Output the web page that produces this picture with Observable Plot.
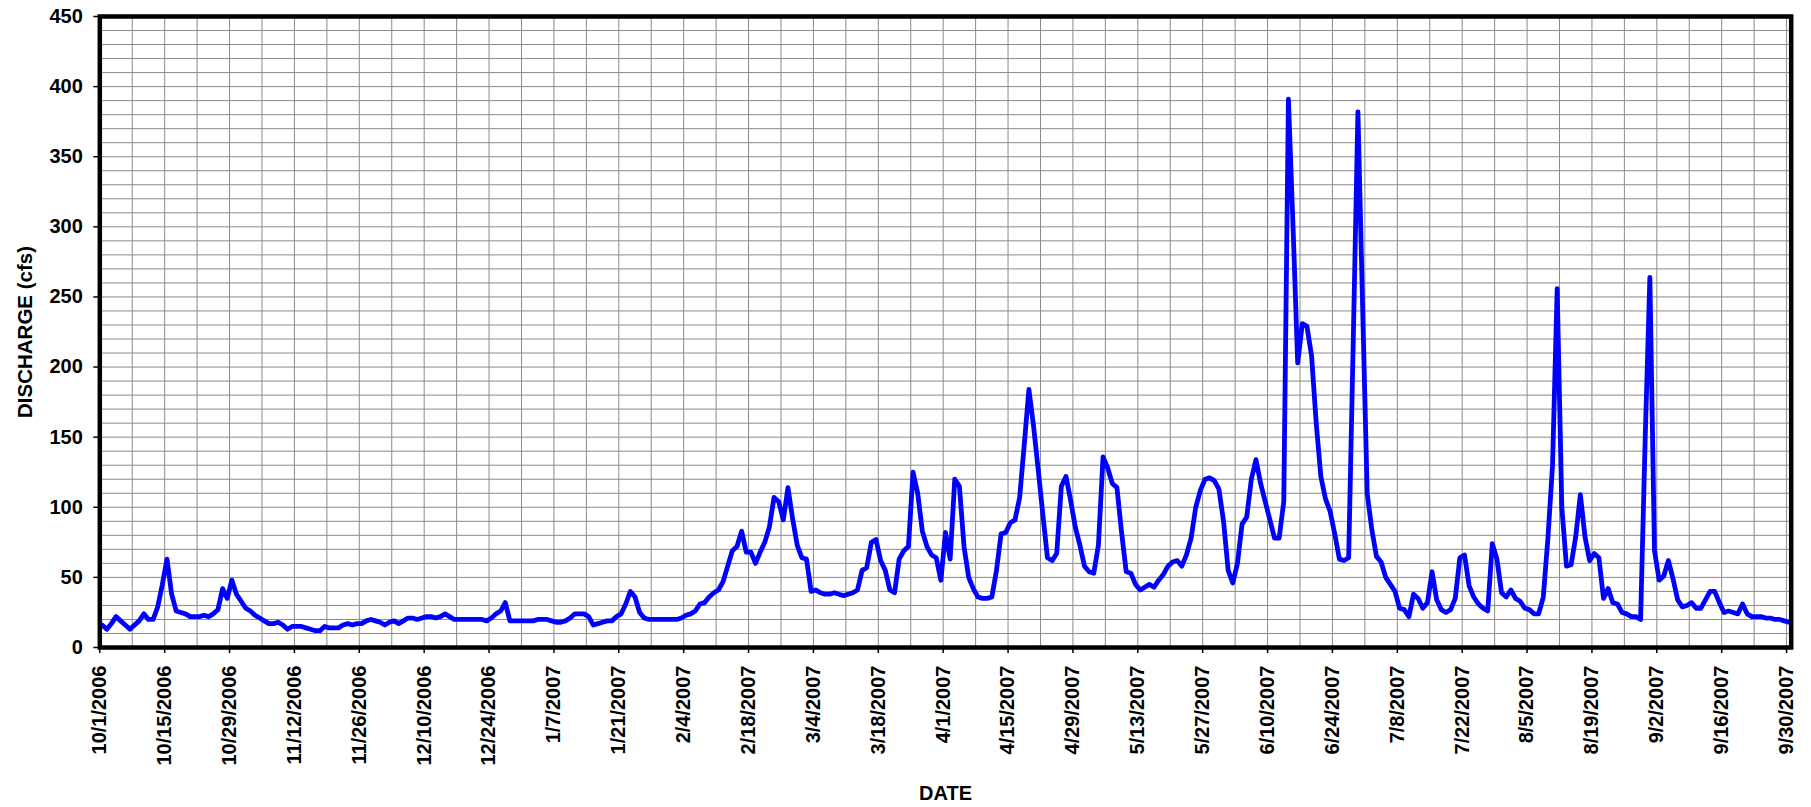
<!DOCTYPE html>
<html>
<head>
<meta charset="utf-8">
<script src="https://cdn.jsdelivr.net/npm/d3@7"></script>
<script src="https://cdn.jsdelivr.net/npm/@observablehq/plot@0.6"></script>
<style>
  html, body { margin: 0; padding: 0; background: #ffffff; }
  #chart svg { display: block; }
</style>
</head>
<body>
<div id="chart"></div>
<script>
// Daily mean discharge (cfs), water year Oct 1 2006 – Sep 30 2007, one array per month
const startDate = "2006-10-01";
const oct2006 = [16,13,17,22,19,16,13,16,19,24,20,20,29,45,63,38,26,25,24,22,22,22,23,22,24,27,42,35,48,38,33];
const nov2006 = [28,26,23,21,19,17,17,18,16,13,15,15,15,14,13,12,12,15,14,14,14,16,17,16,17,17,19,20,19,18];
const dec2006 = [16,18,19,17,19,21,21,20,21,22,22,21,22,24,22,20,20,20,20,20,20,20,19,21,24,26,32,19,19,19,19];
const jan2007 = [19,19,20,20,20,19,18,18,19,21,24,24,24,22,16,17,18,19,19,22,24,31,40,36,25,21,20,20,20,20,20];
const feb2007 = [20,20,21,23,24,26,31,32,36,39,41,47,58,69,72,83,68,68,60,68,75,86,107,104,91,114,92,73];
const mar2007 = [64,63,40,41,39,38,38,39,38,37,38,39,41,55,57,75,77,62,55,41,39,63,69,72,125,110,83,72,66,64,48];
const apr2007 = [82,63,120,115,72,50,42,36,35,35,36,55,81,82,89,91,107,145,184,158,127,95,64,62,67,115,122,105,86,73];
const may2007 = [58,54,53,73,136,128,117,114,82,54,53,45,41,43,45,43,48,52,58,61,62,58,66,78,100,112,120,121,119,113,90];
const jun2007 = [55,46,60,88,93,120,134,117,104,91,78,78,104,391,300,203,231,229,208,160,122,106,97,81,63,62,64,220,382,245];
const jul2007 = [110,84,65,61,50,45,40,28,27,22,38,35,28,32,54,34,27,25,27,35,64,66,44,36,31,28,26,74,63,39,36];
const aug2007 = [41,35,33,28,27,24,24,36,78,130,256,100,58,59,79,109,79,62,67,64,35,42,32,31,25,24,22,22,20,150,264];
const sep2007 = [69,48,51,62,49,34,29,30,32,28,28,34,40,40,32,25,26,25,24,31,24,22,22,22,21,21,20,20,19,18];

const tickLabels = ["10/1/2006","10/15/2006","10/29/2006","11/12/2006","11/26/2006","12/10/2006","12/24/2006",
  "1/7/2007","1/21/2007","2/4/2007","2/18/2007","3/4/2007","3/18/2007","4/1/2007","4/15/2007","4/29/2007",
  "5/13/2007","5/27/2007","6/10/2007","6/24/2007","7/8/2007","7/22/2007","8/5/2007","8/19/2007","9/2/2007",
  "9/16/2007","9/30/2007"];
const yTicks = [0, 50, 100, 150, 200, 250, 300, 350, 400, 450];
const yTitle = "DISCHARGE (cfs)";
const xTitle = "DATE";

const DAY = 86400000;
const day0 = Date.parse(startDate + "T00:00:00Z");
const flows = [oct2006, nov2006, dec2006, jan2007, feb2007, mar2007, apr2007,
               may2007, jun2007, jul2007, aug2007, sep2007].flat();
// Excel date axis plots each day in the middle of its interval
const data = flows.map((q, i) => ({date: new Date(day0 + (i + 0.5) * DAY), q}));
const tickDates = tickLabels.map(s => {
  const [m, d, y] = s.split("/").map(Number);
  return new Date(Date.UTC(y, m - 1, d));
});
const labelOf = new Map(tickDates.map((d, i) => [+d, tickLabels[i]]));
const weekGrid = d3.range(0, 365, 7).map(i => new Date(day0 + i * DAY));
const cfsGrid = d3.range(0, 451, 10);

const chart = Plot.plot({
  width: 1811,
  height: 807,
  marginLeft: 99.3,
  marginRight: 20.3,
  marginTop: 16,
  marginBottom: 160,
  style: "font-family: 'Liberation Sans', Arial, sans-serif; font-size: 20px; font-weight: bold; color: #000; background: #fff;",
  x: {type: "utc", domain: [new Date(day0), new Date(day0 + 365 * DAY)]},
  y: {type: "linear", domain: [0, 450]},
  marks: [
    Plot.ruleY(cfsGrid, {stroke: "#8a8a8a", strokeWidth: 1}),
    Plot.ruleX(weekGrid, {stroke: "#8a8a8a", strokeWidth: 1}),
    Plot.line(data, {x: "date", y: "q", stroke: "#0000ff", strokeWidth: 4.8, strokeLinejoin: "round", strokeLinecap: "round"}),
    Plot.frame({stroke: "#000", strokeWidth: 4.5}),
    Plot.axisX(tickDates, {
      tickFormat: d => labelOf.get(+d), tickRotate: -90, tickSize: 6, tickPadding: 12,
      label: null, stroke: "#000", strokeWidth: 1.5
    }),
    Plot.axisY(yTicks, {
      tickSize: 6, tickPadding: 11, label: null, stroke: "#000", strokeWidth: 1.5
    }),
    Plot.text([yTitle], {frameAnchor: "left", dx: -74.7, rotate: -90, textAnchor: "middle", lineAnchor: "middle",
      fontSize: 20.5, fontWeight: "bold", fill: "#000"}),
    Plot.text([xTitle], {frameAnchor: "bottom", dy: 145.9, textAnchor: "middle", lineAnchor: "middle",
      fontSize: 20, fontWeight: "bold", fill: "#000"})
  ]
});
document.getElementById("chart").appendChild(chart);
</script>
</body>
</html>
